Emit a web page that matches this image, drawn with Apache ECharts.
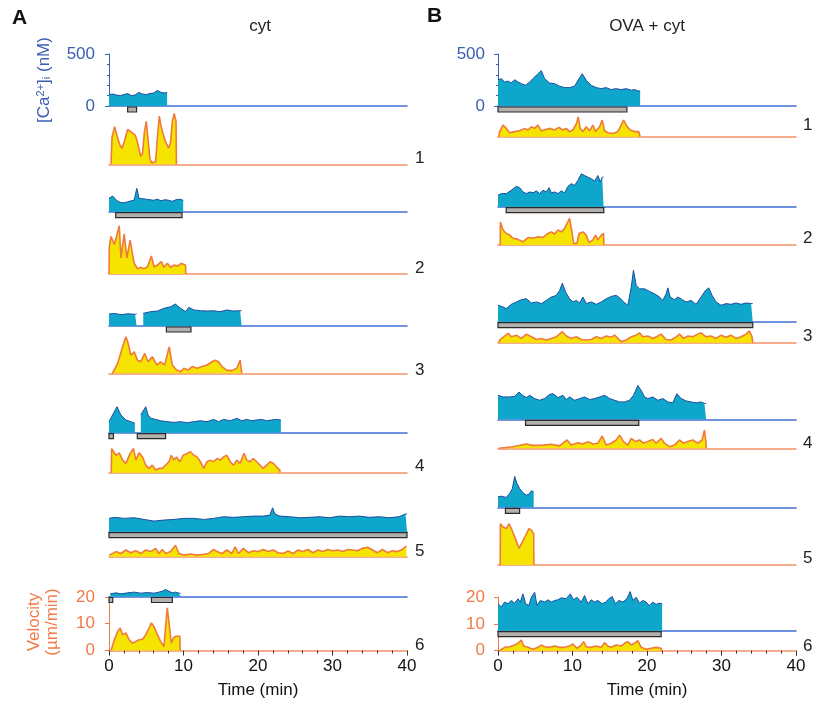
<!DOCTYPE html>
<html>
<head>
<meta charset="utf-8">
<title>Ca2+ and velocity traces</title>
<script src="https://cdn.jsdelivr.net/npm/echarts@6.0.0/dist/echarts.min.js"></script>
<style>
html, body {margin: 0; padding: 0; background: #fff;}
#chart {width: 824px; height: 704px;}
</style>
</head>
<body>
<div id="chart"></div>
<script>
// ---- data: [time (min), value] ; Ca in nM, velocity in um/min ----
var caA1 = [[0,110],[0.5,115],[1,105],[1.5,100],[2,110],[2.5,120],[3,100],[3.5,105],[4,130],[4.5,115],[5,110],[5.5,120],[6,125],[6.5,150],[7,130],[7.5,125],[7.8,130]];
var velA1 = [[0.27,0],[0.4,10],[0.75,14],[1.25,9],[1.5,7],[1.75,6],[2.0,8],[2.5,13],[3.0,12],[3.5,11],[3.75,9],[4.0,6],[4.25,3],[4.5,4],[4.75,12],[5.0,16],[5.25,9],[5.5,2],[5.75,0.5],[6.25,1],[6.5,10],[6.75,18],[7.0,14],[7.5,9],[8.0,6],[8.25,8],[8.5,16],[8.75,19],[9.0,16],[9.05,0]];
var barsA1 = [[2.5,3.7]];

var caA2 = [[0,130],[0.5,150],[1,110],[1.5,90],[2,85],[2.5,95],[3,105],[3.38,112],[3.73,224],[4.04,128],[4.5,125],[5,120],[5.5,115],[6,110],[6.5,120],[7,105],[7.5,115],[8,110],[8.5,100],[9,115],[9.5,120],[9.96,110]];
var velA2 = [[0,0],[0.04,10],[0.27,14],[0.71,11],[1.38,18],[1.6,6],[2.04,15],[2.4,6],[2.84,12.6],[3.38,4],[3.82,2],[4.27,2.5],[4.71,2],[5.16,2.7],[5.69,6.7],[6.04,2.7],[6.49,3.3],[7.02,4.6],[7.38,2.5],[7.82,4],[8.27,2.5],[8.71,3.3],[9.24,3],[9.69,4],[10.27,3.3],[10.3,0]];
var barsA2 = [[0.9,9.8]];

var caA3 = [[0,115],[0.5,120],[1,118],[1.5,110],[2,112],[2.5,118],[3,115],[3.5,112],[3.7,118],[4.1,null],[4.6,122],[5.6,138],[6.5,144],[7.4,170],[8.3,186],[8.9,211],[9.6,170],[10.3,138],[10.7,179],[11.4,154],[12.3,147],[13.2,144],[14.0,147],[14.9,138],[15.8,154],[16.7,144],[17.6,147],[17.8,147]];
var velA3 = [[0.45,0],[0.49,0.6],[1.16,3.7],[1.82,9.9],[2.27,13.6],[2.58,11.1],[2.93,6.8],[3.38,8],[3.82,4.9],[4.27,4.3],[4.8,7.4],[5.24,4.3],[5.82,6.2],[6.4,3.1],[6.93,4.3],[7.47,3.1],[8.09,9.9],[8.49,3.1],[9.07,1.2],[9.6,0.6],[10.04,1.9],[10.58,1.2],[11.16,2.5],[11.82,1.9],[12.49,2.5],[13.16,3.1],[13.82,4.3],[14.27,4.9],[14.71,4.3],[15.16,2.5],[15.82,1.2],[16.49,1],[17.16,1.9],[17.6,4.9],[17.82,0]];
var barsA3 = [[7.7,11.0]];

var caA4 = [[0,106],[1.07,250],[1.6,170],[2.27,122],[2.93,106],[3.47,90],[3.9,null],[4.27,170],[4.93,250],[5.24,170],[5.6,138],[6.27,128],[6.93,115],[7.82,106],[8.71,99],[9.6,106],[10.49,96],[11.38,106],[12.27,115],[13.16,106],[14.04,128],[14.71,106],[15.38,128],[16.27,115],[17.16,138],[17.82,115],[18.49,128],[19.16,115],[19.82,122],[20.49,128],[21.16,115],[21.82,122],[22.49,128],[23.07,122]];
var velA4 = [[0.3,0],[0.36,9.0],[0.93,6.5],[1.38,7.4],[1.82,4.7],[2.27,3.5],[2.84,7.2],[3.29,9.0],[3.6,4.7],[4.04,7.4],[4.49,5.9],[4.93,2.8],[5.38,1.6],[5.82,2.8],[6.27,1.0],[6.71,1.6],[7.16,1.6],[7.6,2.8],[8.04,4.1],[8.36,6.5],[8.71,4.7],[9.07,5.9],[9.51,4.1],[9.96,6.5],[10.49,7.2],[10.93,7.8],[11.38,6.5],[11.82,5.9],[12.27,4.1],[12.71,1.6],[13.16,4.1],[13.6,4.7],[14.04,4.1],[14.49,5.3],[14.93,4.7],[15.38,5.9],[15.82,6.5],[16.27,4.1],[16.71,2.8],[17.16,4.7],[17.6,3.5],[18.13,7.2],[18.49,4.7],[18.93,4.1],[19.38,5.3],[19.82,4.1],[20.27,2.8],[20.71,1.6],[21.16,2.8],[21.6,4.1],[22.04,3.5],[22.49,2.2],[22.93,1.0],[22.95,0]];
var barsA4 = [[0,0.6],[3.8,7.6]];

var caA5 = [[0,128],[0.71,138],[2.04,128],[3.38,134],[4.71,118],[6.04,102],[7.38,112],[8.71,118],[10.04,128],[11.38,128],[12.71,118],[14.04,128],[15.38,144],[16.71,138],[18.04,144],[19.38,150],[20.71,150],[21.6,160],[21.96,230],[22.27,170],[22.93,150],[24.27,144],[25.6,134],[26.93,138],[28.27,144],[29.6,134],[30.93,150],[32.27,144],[33.6,150],[34.93,138],[36.27,144],[37.6,134],[38.93,144],[39.8,170],[40,170]];
var velA5 = [[0.04,0.6],[0.93,1.9],[1.6,1.2],[2.27,2.5],[2.93,1.5],[3.6,2.2],[4.27,1.2],[4.93,2.5],[5.6,1.9],[6.27,3.1],[6.71,1.2],[7.16,2.7],[7.6,1.2],[8.27,1.9],[8.93,4.3],[9.38,1.2],[10.04,0.6],[10.93,1.0],[11.82,0.6],[12.71,0.9],[13.38,1.2],[14.04,2.7],[14.49,1.9],[15.16,1.2],[15.82,2.5],[16.49,1.2],[16.93,3.7],[17.38,1.2],[18.04,3.1],[18.71,1.5],[19.38,2.2],[20.04,1.9],[20.71,2.7],[21.38,1.9],[22.04,2.5],[22.71,1.5],[23.38,1.2],[24.04,2.1],[24.71,1.2],[25.38,2.5],[26.04,1.9],[26.71,2.7],[27.38,1.5],[28.04,2.5],[28.71,1.9],[29.38,2.7],[30.04,2.2],[30.71,2.5],[31.38,1.9],[32.04,2.7],[32.71,2.5],[33.38,2.2],[34.0,3.1],[34.71,3.5],[35.38,2.5],[36.04,1.5],[36.71,2.7],[37.38,1.5],[38.04,2.2],[38.71,1.9],[39.38,2.7],[39.91,4.0]];
var barsA5 = [[0,40]];

var caA6 = [[0.18,26],[0.93,35],[1.6,26],[2.49,35],[3.38,42],[4.27,32],[5.16,38],[6.04,32],[6.71,42],[7.16,51],[7.6,67],[8.04,51],[8.49,35],[8.93,42],[9.38,32],[9.6,32]];
var velA6 = [[0.27,0],[0.71,4],[1.16,7.1],[1.51,8.4],[1.82,5.9],[2.27,6.5],[2.71,4],[3.16,2.7],[3.6,3.4],[4.04,4],[4.49,4.2],[4.93,5.9],[5.38,8.4],[5.69,10.3],[6.04,9],[6.49,5.9],[6.93,3.4],[7.38,1.5],[7.6,9],[7.82,15.9],[8.04,10.9],[8.36,2.7],[8.62,4.6],[8.93,5.3],[9.24,5.3],[9.51,5.3],[9.55,0]];
var barsA6 = [[0,0.5],[5.7,8.5]];

var caB1 = [[0,253],[0.45,262],[0.89,231],[1.34,240],[1.79,221],[2.23,253],[2.68,231],[3.13,215],[3.71,199],[4.25,231],[4.92,278],[5.36,310],[5.81,341],[6.26,262],[6.93,221],[7.6,215],[8.27,190],[8.94,177],[9.61,177],[10.28,190],[10.86,262],[11.31,310],[11.84,247],[12.51,199],[13.18,177],[13.85,167],[14.52,177],[15.19,158],[15.86,167],[16.53,158],[17.2,167],[17.87,152],[18.32,158],[18.77,145],[19.08,145]];
var velB1 = [[0.1,0],[0.22,1.9],[0.67,4.3],[1.12,3.1],[1.56,1.5],[2.23,1.9],[2.9,2.2],[3.58,3.1],[4.02,2.5],[4.47,3.7],[4.92,3.1],[5.36,4.3],[5.81,2.2],[6.39,2.7],[7.02,3.1],[7.6,2.5],[8.18,3.5],[8.71,2.5],[9.16,3.1],[9.61,1.9],[10.05,2.5],[10.5,4.7],[10.77,7.4],[11.04,3.1],[11.39,1.9],[11.84,3.7],[12.29,2.2],[12.73,4.3],[13.09,1.9],[13.63,3.7],[13.99,6.2],[14.3,2.2],[14.75,1.5],[15.42,1.2],[16.09,1.9],[16.53,4.3],[16.85,6.2],[17.29,4.0],[17.74,2.5],[18.32,1.9],[18.9,1.9],[19.08,0]];
var barsB1 = [[0,17.3]];

var caB2 = [[0,111],[0.45,126],[1.12,126],[1.79,158],[2.47,196],[2.91,183],[3.36,142],[3.81,126],[4.25,142],[4.7,133],[5.15,152],[5.59,126],[6.04,158],[6.49,142],[6.84,183],[7.16,133],[7.6,142],[8.05,126],[8.5,152],[8.94,133],[9.39,196],[9.84,221],[10.28,205],[10.73,253],[11.18,316],[11.63,300],[12.07,284],[12.52,269],[12.97,246],[13.41,300],[13.73,237],[13.99,284],[14.17,284]];
var velB2 = [[0.3,0],[0.32,8.6],[0.68,5.6],[1.12,4.3],[1.57,3.7],[2.02,2.5],[2.69,2.1],[3.36,1.2],[4.03,2.8],[4.7,2.5],[5.37,3.1],[6.04,2.8],[6.71,4.3],[7.16,4.9],[7.6,4.1],[8.05,5.6],[8.5,4.9],[8.94,6.2],[9.26,8.0],[9.61,9.9],[9.88,5.6],[10.15,0.6],[10.6,0.6],[10.87,4.3],[11.4,4.9],[11.85,3.7],[12.21,0.9],[12.74,1.9],[13.1,3.7],[13.41,1.9],[13.86,3.7],[14.17,4.3],[14.2,0]];
var barsB2 = [[1.1,14.2]];

var caB3 = [[0,158],[0.68,142],[1.12,126],[1.79,167],[2.47,190],[3.14,212],[3.81,221],[4.48,180],[5.15,190],[5.82,174],[6.49,205],[7.16,237],[7.83,253],[8.27,300],[8.63,370],[9.08,284],[9.61,221],[10.06,190],[10.51,205],[10.95,180],[11.4,237],[11.85,174],[12.52,190],[13.19,167],[13.86,190],[14.53,221],[15.2,243],[15.87,253],[16.32,231],[16.85,190],[17.43,158],[17.88,332],[18.19,496],[18.55,348],[19.0,316],[19.67,316],[20.34,291],[21.01,269],[21.68,237],[22.13,205],[22.57,269],[22.8,325],[23.11,237],[23.69,212],[24.14,237],[24.72,212],[25.25,190],[25.92,205],[26.59,167],[27.26,237],[27.84,300],[28.29,325],[28.74,253],[29.27,190],[29.94,158],[30.62,174],[31.29,167],[31.96,180],[32.63,167],[33.3,180],[33.97,174],[34.19,174]];
var velB3 = [[0.1,0],[0.23,1.0],[0.9,2.5],[1.35,3.5],[1.79,2.2],[2.47,2.8],[3.14,1.6],[3.81,3.2],[4.48,2.2],[5.15,1.2],[5.82,1.6],[6.49,1.0],[7.16,1.6],[7.83,2.2],[8.63,4.1],[9.17,2.5],[9.84,1.6],[10.51,2.2],[11.18,1.2],[11.85,1.0],[12.52,1.2],[13.19,2.2],[13.86,1.6],[14.53,2.5],[15.2,2.0],[15.65,2.8],[16.09,1.6],[16.54,0.4],[17.21,1.0],[17.88,2.2],[18.55,2.8],[19.0,3.7],[19.44,2.2],[20.11,2.5],[20.78,1.6],[21.46,2.5],[21.9,3.2],[22.57,1.2],[23.24,1.0],[23.91,2.2],[24.36,3.2],[24.9,1.6],[25.48,2.5],[26.15,2.2],[26.82,3.2],[27.26,3.7],[27.93,2.2],[28.6,2.5],[29.27,1.6],[29.94,2.8],[30.62,2.0],[31.29,2.8],[31.96,1.6],[32.63,2.2],[33.3,3.2],[33.74,4.4],[34.1,2.2],[34.19,0]];
var barsB3 = [[0,34.2]];

var caB4 = [[0,231],[0.68,215],[1.57,215],[2.24,221],[2.82,262],[3.27,231],[3.81,209],[4.25,231],[4.92,199],[5.59,183],[6.26,199],[6.93,240],[7.38,246],[8.05,209],[8.72,231],[9.17,190],[9.61,215],[10.28,183],[10.95,199],[11.63,215],[12.3,190],[12.97,199],[13.64,215],[14.31,231],[14.98,199],[15.65,183],[16.32,167],[16.99,167],[17.66,183],[18.19,231],[18.77,325],[19.22,278],[19.67,215],[20.11,199],[20.78,215],[21.46,183],[22.13,199],[22.8,167],[23.47,158],[24.0,246],[24.58,199],[25.25,177],[25.92,167],[26.59,158],[27.26,167],[27.71,152],[27.93,152]];
var velB4 = [[0.1,0],[0.23,0.4],[2.02,0.6],[3.81,1.6],[4.7,1.1],[6.04,1.2],[7.16,1.5],[8.27,0.9],[9.26,3.1],[9.84,1.2],[10.73,2.1],[11.4,1.6],[12.07,2.5],[12.74,1.6],[13.41,1.9],[13.99,4.6],[14.53,1.2],[15.2,1.9],[15.87,3.1],[16.32,4.9],[16.85,2.5],[17.43,1.2],[17.88,3.7],[18.46,2.5],[19.0,3.1],[19.53,1.9],[20.11,2.5],[20.78,3.3],[21.23,1.9],[21.9,3.7],[22.35,1.9],[23.02,0.6],[23.69,1.2],[24.36,3.1],[24.9,1.9],[25.48,2.5],[26.15,3.1],[26.82,1.9],[27.4,3.1],[27.71,6.8],[27.93,1.9],[27.95,0]];
var barsB4 = [[3.7,18.9]];

var caB5 = [[0,101],[0.45,107],[1.12,95],[1.57,133],[1.93,180],[2.24,297],[2.55,228],[2.91,180],[3.36,139],[3.81,117],[4.16,126],[4.48,158],[4.79,149]];
var velB5 = [[0.3,0],[0.32,15.4],[0.68,14.2],[1.12,13.6],[1.48,15.4],[1.79,13.6],[2.24,10.5],[2.82,6.2],[3.27,8.6],[3.72,11.1],[4.16,13.6],[4.48,13.0],[4.79,11.7],[4.82,0]];
var barsB5 = [[1.0,2.9]];

var caB6 = [[0,259],[0.45,228],[0.89,275],[1.34,259],[1.79,291],[2.23,265],[2.68,307],[2.99,275],[3.35,354],[3.71,259],[4.16,243],[4.47,322],[4.92,370],[5.23,243],[5.68,291],[6.26,275],[6.7,297],[7.15,275],[7.6,291],[8.04,297],[8.49,316],[9.16,307],[9.7,354],[10.14,297],[10.59,322],[11.17,275],[11.62,338],[12.06,259],[12.51,297],[12.96,275],[13.4,291],[13.99,259],[14.43,275],[14.88,307],[15.33,329],[15.77,259],[16.22,291],[16.76,275],[17.29,307],[17.74,376],[18.1,291],[18.54,322],[18.99,265],[19.44,291],[19.88,275],[20.33,243],[20.78,275],[21.22,253],[21.67,265],[22.03,259]];
var velB6 = [[0.2,0],[0.22,0.5],[0.89,1.25],[1.56,1.5],[2.23,2.1],[2.68,2.75],[3.13,4],[3.44,1.75],[4.02,1.25],[4.69,0.5],[5.36,1.25],[5.81,2.1],[6.26,1.5],[6.93,1.25],[7.6,1.75],[8.27,1.25],[8.94,1.25],[9.61,1.75],[10.05,2.5],[10.59,0.9],[11.17,2.1],[11.48,3.4],[11.84,1.5],[12.51,1.25],[13.18,1.75],[13.85,1.25],[14.3,3],[14.75,1.75],[15.19,1.25],[15.86,2.1],[16.53,1.75],[16.98,2.75],[17.43,3.4],[17.87,2.1],[18.32,2.75],[18.77,3.75],[19.21,1.25],[19.88,0.5],[20.55,0.9],[21.22,1.25],[21.89,0.9],[21.92,0]];
var barsB6 = [[0,21.9]];

var cellLabels = ['1', '2', '3', '4', '5', '6'];
var timeRange = [0, 40];
var caRange = [0, 500];
var velRange = [0, 20];

// ---- layout ----
var FONT = '"Liberation Sans", Arial, Helvetica, sans-serif';
var CA_BLUE = '#3f6fd3', CA_FILL = '#0fa6cc', CA_EDGE = '#1d4d9e';
var VEL_LINE = '#f3926a', VEL_FILL = '#f5e400', VEL_EDGE = '#f07a3c';
var AXIS_CA_TXT = '#3a5fb0', AXIS_VEL_TXT = '#f07a48';
var CA_PX = 52, VEL_PX = 53.6, PLOT_W = 298;

var panels = [
    {left: 109, offset: 9, numX: 415,
     caBase: [106, 211.7, 326, 432.7, 531.7, 596.5],
     velBase: [164.3, 274, 373.3, 472.7, 556.7, 650.5],
     numY: [160, 270, 372, 468, 553, 647],
     ca: [caA1, caA2, caA3, caA4, caA5, caA6],
     vel: [velA1, velA2, velA3, velA4, velA5, velA6],
     bars: [barsA1, barsA2, barsA3, barsA4, barsA5, barsA6]},
    {left: 498, offset: 8, numX: 803,
     caBase: [106, 206.7, 321.7, 419.3, 507.3, 630.7],
     velBase: [136.7, 245, 342.7, 448.3, 565, 650.7],
     numY: [127, 240, 338, 445, 560, 648],
     ca: [caB1, caB2, caB3, caB4, caB5, caB6],
     vel: [velB1, velB2, velB3, velB4, velB5, velB6],
     bars: [barsB1, barsB2, barsB3, barsB4, barsB5, barsB6]}
];

var chart = echarts.init(document.getElementById('chart'), null, {renderer: 'canvas'});

var grids = [], xAxes = [], yAxes = [], series = [], texts = [];

function renderBar(params, api) {
    var a = api.coord([api.value(0), 0]);
    var b = api.coord([api.value(1), 0]);
    return {
        type: 'rect',
        shape: {x: a[0], y: a[1] + 1, width: b[0] - a[0], height: 5},
        style: {fill: '#b4b0ad', stroke: '#2a2a2a', lineWidth: 1.2}
    };
}

function addTrace(p, base, h, range, data, lineCol, fill, edge, yAx, xAx, bars, lw) {
    grids.push({left: p.left, top: base - h, width: PLOT_W, height: h, outerBoundsMode: 'none'});
    var gi = grids.length - 1;
    var xa = {
        gridIndex: gi, type: 'value', min: timeRange[0], max: timeRange[1], interval: 10,
        axisLine: {show: true, onZero: true, lineStyle: {color: lineCol, width: 1.6}},
        axisTick: {show: false}, axisLabel: {show: false}, splitLine: {show: false}
    };
    if (xAx) Object.assign(xa, xAx);
    xAxes.push(xa);
    var ya = {gridIndex: gi, type: 'value', min: range[0], max: range[1], show: false, splitLine: {show: false}};
    if (yAx) Object.assign(ya, yAx);
    yAxes.push(ya);
    series.push({
        type: 'line', xAxisIndex: gi, yAxisIndex: gi, data: data,
        symbol: 'none', clip: false, connectNulls: false,
        lineStyle: {color: edge, width: lw}, areaStyle: {color: fill, opacity: 1}, z: 3
    });
    if (bars) {
        series.push({
            type: 'custom', xAxisIndex: gi, yAxisIndex: gi, data: bars,
            renderItem: renderBar, clip: false, z: 4
        });
    }
}

function leftAxis(p, interval, color, minorSplit) {
    return {
        show: true, position: 'left', offset: p.offset, interval: interval,
        axisLine: {show: true, lineStyle: {color: color, width: 1}},
        axisTick: {show: true, length: 4, lineStyle: {color: color}},
        minorTick: {show: minorSplit > 0, splitNumber: minorSplit || 1, length: 2, lineStyle: {color: color}},
        axisLabel: {show: true, fontSize: 17, color: color, margin: 5, fontFamily: FONT}
    };
}

var bottomX = {
    axisTick: {show: true, length: 5, lineStyle: {color: '#333'}},
    minorTick: {show: true, splitNumber: 5, length: 3, lineStyle: {color: '#333'}},
    axisLabel: {show: true, fontSize: 17, color: '#111', margin: 7, fontFamily: FONT},
    name: 'Time (min)', nameLocation: 'middle', nameGap: 31,
    nameTextStyle: {fontSize: 17, color: '#111', fontFamily: FONT}
};

panels.forEach(function (p) {
    for (var i = 0; i < 6; i++) {
        addTrace(p, p.caBase[i], CA_PX, caRange, p.ca[i], CA_BLUE, CA_FILL, CA_EDGE,
            i === 0 ? leftAxis(p, 500, AXIS_CA_TXT, 5) : null, null, p.bars[i], 1);
        addTrace(p, p.velBase[i], VEL_PX, velRange, p.vel[i], VEL_LINE, VEL_FILL, VEL_EDGE,
            i === 5 ? leftAxis(p, 10, AXIS_VEL_TXT, 0) : null, i === 5 ? bottomX : null, null, 1.6);
        texts.push({
            type: 'text', left: p.numX, top: p.numY[i] - 10,
            style: {text: cellLabels[i], font: '17px ' + FONT, fill: '#222'}
        });
    }
});

texts.push(
    {type: 'text', left: 12, top: 8, style: {text: 'A', font: 'bold 21px ' + FONT, fill: '#111'}},
    {type: 'text', left: 427, top: 6, style: {text: 'B', font: 'bold 21px ' + FONT, fill: '#111'}},
    {type: 'text', x: 260, y: 26, style: {text: 'cyt', font: '17px ' + FONT, fill: '#222', align: 'center', verticalAlign: 'middle'}},
    {type: 'text', x: 647, y: 26, style: {text: 'OVA + cyt', font: '17px ' + FONT, fill: '#222', align: 'center', verticalAlign: 'middle'}},
    {type: 'text', x: 44, y: 80, rotation: Math.PI / 2,
     style: {text: '[Ca{sup|2+}]{sub|i} (nM)', font: '17px ' + FONT, fill: AXIS_CA_TXT, align: 'center', verticalAlign: 'middle',
             rich: {sup: {fontSize: 11, verticalAlign: 'top', fill: AXIS_CA_TXT, fontFamily: FONT},
                    sub: {fontSize: 11, verticalAlign: 'bottom', fill: AXIS_CA_TXT, fontFamily: FONT}}}},
    {type: 'text', x: 43, y: 622, rotation: Math.PI / 2,
     style: {text: 'Velocity\n(\u00b5m/min)', font: '17px ' + FONT, fill: AXIS_VEL_TXT, align: 'center', verticalAlign: 'middle', lineHeight: 18}}
);

chart.setOption({
    backgroundColor: '#ffffff',
    animation: false,
    grid: grids,
    xAxis: xAxes,
    yAxis: yAxes,
    series: series,
    graphic: texts
});
</script>
</body>
</html>
